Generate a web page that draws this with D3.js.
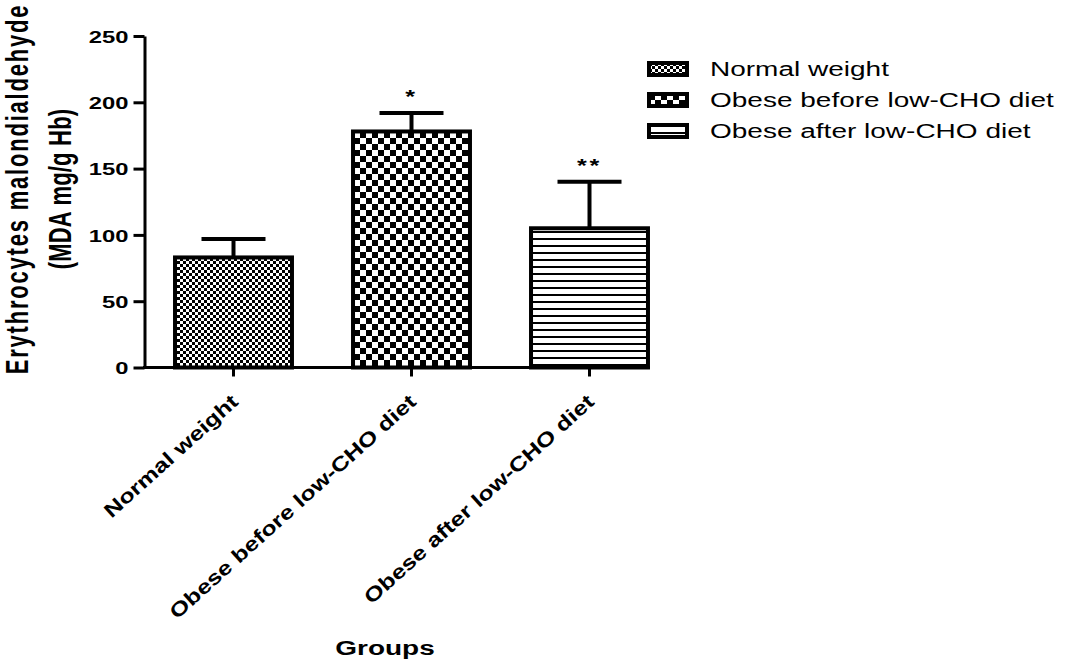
<!DOCTYPE html>
<html>
<head>
<meta charset="utf-8">
<script src="https://cdn.jsdelivr.net/npm/d3@7/dist/d3.min.js"></script>
<style>
  html, body { margin: 0; padding: 0; background: #fff; }
  svg { display: block; }
  text { font-family: "Liberation Sans", Arial, sans-serif; fill: #000; }
</style>
</head>
<body>
<svg id="chart" width="1070" height="665"></svg>
<script>
// Erythrocyte MDA by group (mean ± SEM)
const groups = ["Normal weight", "Obese before low-CHO diet", "Obese after low-CHO diet"];
const meanMDA = [83, 178, 105];
const semMDA = [14, 14, 35];
const significance = ["", "*", "**"];
const yTicks = [0, 50, 100, 150, 200, 250];
const yTitleLines = ["Erythrocytes malondialdehyde", "(MDA mg/g Hb)"];
const xTitle = "Groups";
const patternIds = ["fill-fine", "fill-check", "fill-lines"];

const svg = d3.select("#chart");
svg.append("rect").attr("width", 1070).attr("height", 665).attr("fill", "#fff");

// Fill patterns
const defs = svg.append("defs");
const fine = defs.append("pattern").attr("id", "fill-fine")
  .attr("patternUnits", "userSpaceOnUse").attr("width", 6).attr("height", 6);
fine.append("rect").attr("width", 6).attr("height", 6).attr("fill", "#fff");
fine.append("rect").attr("width", 3).attr("height", 3).attr("fill", "#000");
fine.append("rect").attr("x", 3).attr("y", 3).attr("width", 3).attr("height", 3).attr("fill", "#000");

const check = defs.append("pattern").attr("id", "fill-check")
  .attr("patternUnits", "userSpaceOnUse").attr("width", 12).attr("height", 12);
check.append("rect").attr("width", 12).attr("height", 12).attr("fill", "#fff");
check.append("rect").attr("width", 6).attr("height", 6).attr("fill", "#000");
check.append("rect").attr("x", 6).attr("y", 6).attr("width", 6).attr("height", 6).attr("fill", "#000");

const lines = defs.append("pattern").attr("id", "fill-lines")
  .attr("patternUnits", "userSpaceOnUse").attr("width", 7).attr("height", 7);
lines.append("rect").attr("width", 7).attr("height", 7).attr("fill", "#fff");
lines.append("rect").attr("width", 7).attr("height", 2).attr("fill", "#000");

// Scales
const x = d3.scaleBand().domain(groups).range([144.5, 678.5])
  .paddingInner(0.343).paddingOuter(0.1715);
const y = d3.scaleLinear().domain([0, 250]).range([367.5, 36]);

// Bars
const bars = svg.append("g");
bars.selectAll("rect").data(groups).join("rect")
  .attr("x", d => x(d))
  .attr("y", (d, i) => y(meanMDA[i]))
  .attr("width", x.bandwidth())
  .attr("height", (d, i) => y(0) - y(meanMDA[i]))
  .attr("fill", (d, i) => `url(#${patternIds[i]})`)
  .attr("stroke", "#000").attr("stroke-width", 4);

// Error bars (upper) and significance marks
const err = svg.append("g").attr("stroke", "#000").attr("stroke-width", 4);
groups.forEach((g, i) => {
  const cx = x(g) + x.bandwidth() / 2;
  const top = y(meanMDA[i] + semMDA[i]);
  err.append("line").attr("x1", cx).attr("x2", cx)
    .attr("y1", y(meanMDA[i])).attr("y2", top);
  err.append("line").attr("x1", cx - 32).attr("x2", cx + 32)
    .attr("y1", top).attr("y2", top);
  if (significance[i]) {
    svg.append("text")
      .attr("transform", `translate(${cx},${top - 10}) scale(1.4,1)`)
      .attr("text-anchor", "middle")
      .attr("font-size", 18).attr("font-weight", "bold")
      .attr("letter-spacing", 2)
      .text(significance[i]);
  }
});

// Y axis
const yAxis = svg.append("g").attr("transform", "translate(144.5,0)")
  .call(d3.axisLeft(y).tickValues(yTicks).tickSize(11).tickSizeOuter(0));
yAxis.select(".domain").attr("stroke-width", 3);
yAxis.selectAll(".tick line").attr("stroke-width", 3);
yAxis.selectAll(".tick text")
  .attr("x", 0).attr("dy", "0.36em")
  .attr("transform", "translate(-16,0) scale(1.4,1)")
  .attr("font-size", 17).attr("font-weight", "bold")
  .attr("font-family", "Liberation Sans, Arial, sans-serif");

// X axis
const lastEdge = x(groups[groups.length - 1]) + x.bandwidth() + 2;
const xAxis = svg.append("g").attr("transform", `translate(0,${y(0)})`)
  .call(d3.axisBottom(x).tickSize(9).tickSizeOuter(0));
xAxis.select(".domain").remove();
xAxis.append("line").attr("x1", 143).attr("x2", lastEdge)
  .attr("y1", 0).attr("y2", 0).attr("stroke", "#000").attr("stroke-width", 3);
xAxis.selectAll(".tick line").attr("stroke-width", 3);
xAxis.selectAll(".tick text")
  .attr("x", null).attr("y", null).attr("dy", null)
  .attr("text-anchor", "end")
  .attr("transform", "translate(6,36) rotate(-42) scale(1.25,1)")
  .attr("font-size", 20).attr("font-weight", "bold")
  .attr("font-family", "Liberation Sans, Arial, sans-serif");

// Axis titles
yTitleLines.forEach((t, i) => {
  svg.append("text")
    .attr("transform", `translate(${i === 0 ? 28 : 71},189) scale(1.4,1) rotate(-90)`)
    .attr("text-anchor", "middle")
    .attr("font-size", 22).attr("font-weight", "bold")
    .attr("letter-spacing", i === 0 ? 1.8 : 0.2)
    .text(t);
});
svg.append("text")
  .attr("transform", "translate(385,655) scale(1.4,1)")
  .attr("text-anchor", "middle")
  .attr("font-size", 20).attr("font-weight", "bold")
  .text(xTitle);

// Legend
const legend = svg.append("g").attr("transform", "translate(649,63)");
groups.forEach((g, i) => {
  const row = legend.append("g").attr("transform", `translate(0,${i * 31})`);
  row.append("rect").attr("width", 38).attr("height", 12)
    .attr("fill", `url(#${patternIds[i]})`)
    .attr("stroke", "#000").attr("stroke-width", 4);
  row.append("text")
    .attr("transform", "translate(61,13) scale(1.4,1)")
    .attr("font-size", 20)
    .text(g);
});
</script>
</body>
</html>
